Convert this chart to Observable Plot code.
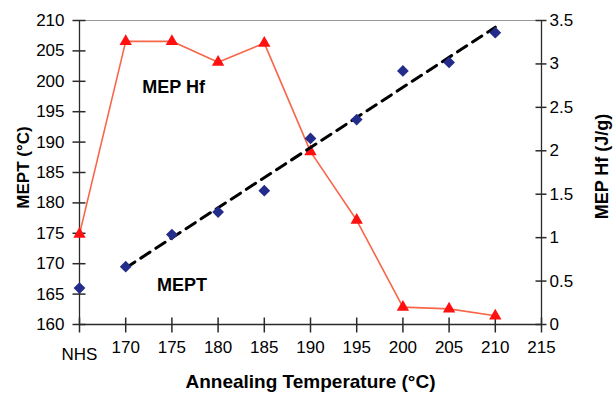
<!DOCTYPE html>
<html>
<head>
<meta charset="utf-8">
<script src="https://cdn.jsdelivr.net/npm/d3@7"></script>
<script src="https://cdn.jsdelivr.net/npm/@observablehq/plot@0.6"></script>
<style>
  html, body { margin: 0; padding: 0; background: #fff; }
</style>
</head>
<body>
<div id="chart"></div>
<script>
// Categories (NHS is placed at the 165 slot of the temperature axis)
const categories = ["NHS", "170", "175", "180", "185", "190", "195", "200", "205", "210"];
const xSlots = [165, 170, 175, 180, 185, 190, 195, 200, 205, 210];
// Series values
const meptValues = [166.0, 169.5, 174.8, 178.5, 182.0, 190.6, 193.7, 201.7, 203.1, 208.0];   // °C, left axis
const hfValues   = [1.04, 3.26, 3.26, 3.02, 3.24, 1.99, 1.20, 0.20, 0.18, 0.10];              // J/g, right axis
// Tick labels
const xTicks = [170, 175, 180, 185, 190, 195, 200, 205, 210, 215];
const leftTicks = [160, 165, 170, 175, 180, 185, 190, 195, 200, 205, 210];
const rightTicks = [0, 0.5, 1, 1.5, 2, 2.5, 3, 3.5];

// map right-axis (Hf) values onto the left (MEPT) scale
const L0 = 160, L1 = 210, R0 = 0, R1 = 3.5;
const X0 = 165, X1 = 215;
const hfToLeft = h => L0 + (h - R0) * (L1 - L0) / (R1 - R0);
const leftToHf = v => R0 + (v - L0) * (R1 - R0) / (L1 - L0);

const data = categories.map((c, i) => ({cat: c, x: xSlots[i], mept: meptValues[i], hf: hfValues[i], hfY: hfToLeft(hfValues[i])}));
const annealed = data.filter(d => d.cat !== "NHS");

const font = "'Liberation Sans', Arial, sans-serif";
const axisColor = "#2a2a2a";

const W = 613, H = 393, mL = 79, mR = 72, mT = 20, mB = 69;
const pxX = (X1 - X0) / (W - mL - mR);
const pxY = (L1 - L0) / (H - mT - mB);

// tick tables (one row per tick mark, crossing the axis line)
const leftTickRows = leftTicks.map(v => ({y: v, xa: X0 - 7 * pxX, xb: X0 + 6 * pxX}));
const rightTickRows = rightTicks.map(v => ({y: hfToLeft(v), xa: X1 - 6 * pxX, xb: X1 + 5 * pxX}));
const xTickRows = [X0, ...xTicks].map(v => ({x: v, ya: L0 - 8 * pxY, yb: L0 + 7 * pxY}));

const chart = Plot.plot({
  width: W,
  height: H,
  marginLeft: mL,
  marginRight: mR,
  marginTop: mT,
  marginBottom: mB,
  style: {fontFamily: font, fontSize: "17px", color: "#000", background: "#fff", overflow: "visible"},
  x: {type: "linear", domain: [X0, X1], axis: null},
  y: {type: "linear", domain: [L0, L1], axis: null},
  marks: [
    // frame lines
    Plot.ruleY([L1], {stroke: "#9a9a9a", strokeWidth: 1.2}),
    Plot.ruleX([X0], {stroke: axisColor, strokeWidth: 1.3}),
    Plot.ruleX([X1], {stroke: axisColor, strokeWidth: 1.3}),
    Plot.ruleY([L0], {stroke: axisColor, strokeWidth: 1.3}),
    // tick marks crossing the axis lines
    Plot.link(leftTickRows, {x1: "xa", x2: "xb", y1: "y", y2: "y", stroke: axisColor, strokeWidth: 1.5}),
    Plot.link(rightTickRows, {x1: "xa", x2: "xb", y1: "y", y2: "y", stroke: axisColor, strokeWidth: 1.5}),
    Plot.link(xTickRows, {x1: "x", x2: "x", y1: "ya", y2: "yb", stroke: axisColor, strokeWidth: 1.5}),
    // left axis labels
    Plot.axisY({anchor: "left", ticks: leftTicks, tickSize: 0, tickPadding: 15, tickFormat: d => String(d), label: null, fontSize: 17}),
    // right axis labels (Hf)
    Plot.axisY({anchor: "right", ticks: rightTicks.map(hfToLeft), tickSize: 0, tickPadding: 8,
      tickFormat: v => String(Math.round(leftToHf(v) * 10) / 10), label: null, fontSize: 17}),
    // bottom axis labels
    Plot.axisX({anchor: "bottom", ticks: xTicks, tickSize: 0, tickPadding: 16, tickFormat: d => String(d), label: null, fontSize: 17}),
    Plot.axisX({anchor: "bottom", ticks: [X0], tickSize: 0, tickPadding: 23, tickFormat: () => categories[0], label: null, fontSize: 17}),
    // axis titles
    Plot.text(["Annealing Temperature (\u00B0C)"], {frameAnchor: "bottom", dy: 57, text: d => d, fontWeight: "bold", fontSize: 19, lineAnchor: "middle", textAnchor: "middle"}),
    Plot.text(["MEPT (\u00B0C)"], {frameAnchor: "left", dx: -56, dy: -5, rotate: -90, text: d => d, fontWeight: "bold", fontSize: 17, lineAnchor: "middle", textAnchor: "middle"}),
    Plot.text(["MEP Hf (J/g)"], {frameAnchor: "right", dx: 61, dy: -6, rotate: -90, text: d => d, fontWeight: "bold", fontSize: 18, lineAnchor: "middle", textAnchor: "middle"}),
    // MEP Hf series
    Plot.line(data, {x: "x", y: "hfY", stroke: "#f8664a", strokeWidth: 1.6}),
    Plot.dot(data, {x: "x", y: "hfY", symbol: "triangle", r: 4.6, fill: "#ff1010", stroke: "none"}),
    // MEPT trend line
    Plot.linearRegressionY(annealed, {x: "x", y: "mept", ci: 0, stroke: "#000", strokeWidth: 3, strokeDasharray: "11,7"}),
    // MEPT points
    Plot.dot(data, {x: "x", y: "mept", symbol: "diamond2", r: 5.3, fill: "#232c8a", stroke: "none"}),
    // annotations
    Plot.text(["MEP Hf"], {x: 171.8, y: 199, text: d => d, textAnchor: "start", fontWeight: "bold", fontSize: 18}),
    Plot.text(["MEPT"], {x: 173.4, y: 166.4, text: d => d, textAnchor: "start", fontWeight: "bold", fontSize: 18})
  ]
});
document.getElementById("chart").appendChild(chart);
</script>
</body>
</html>
